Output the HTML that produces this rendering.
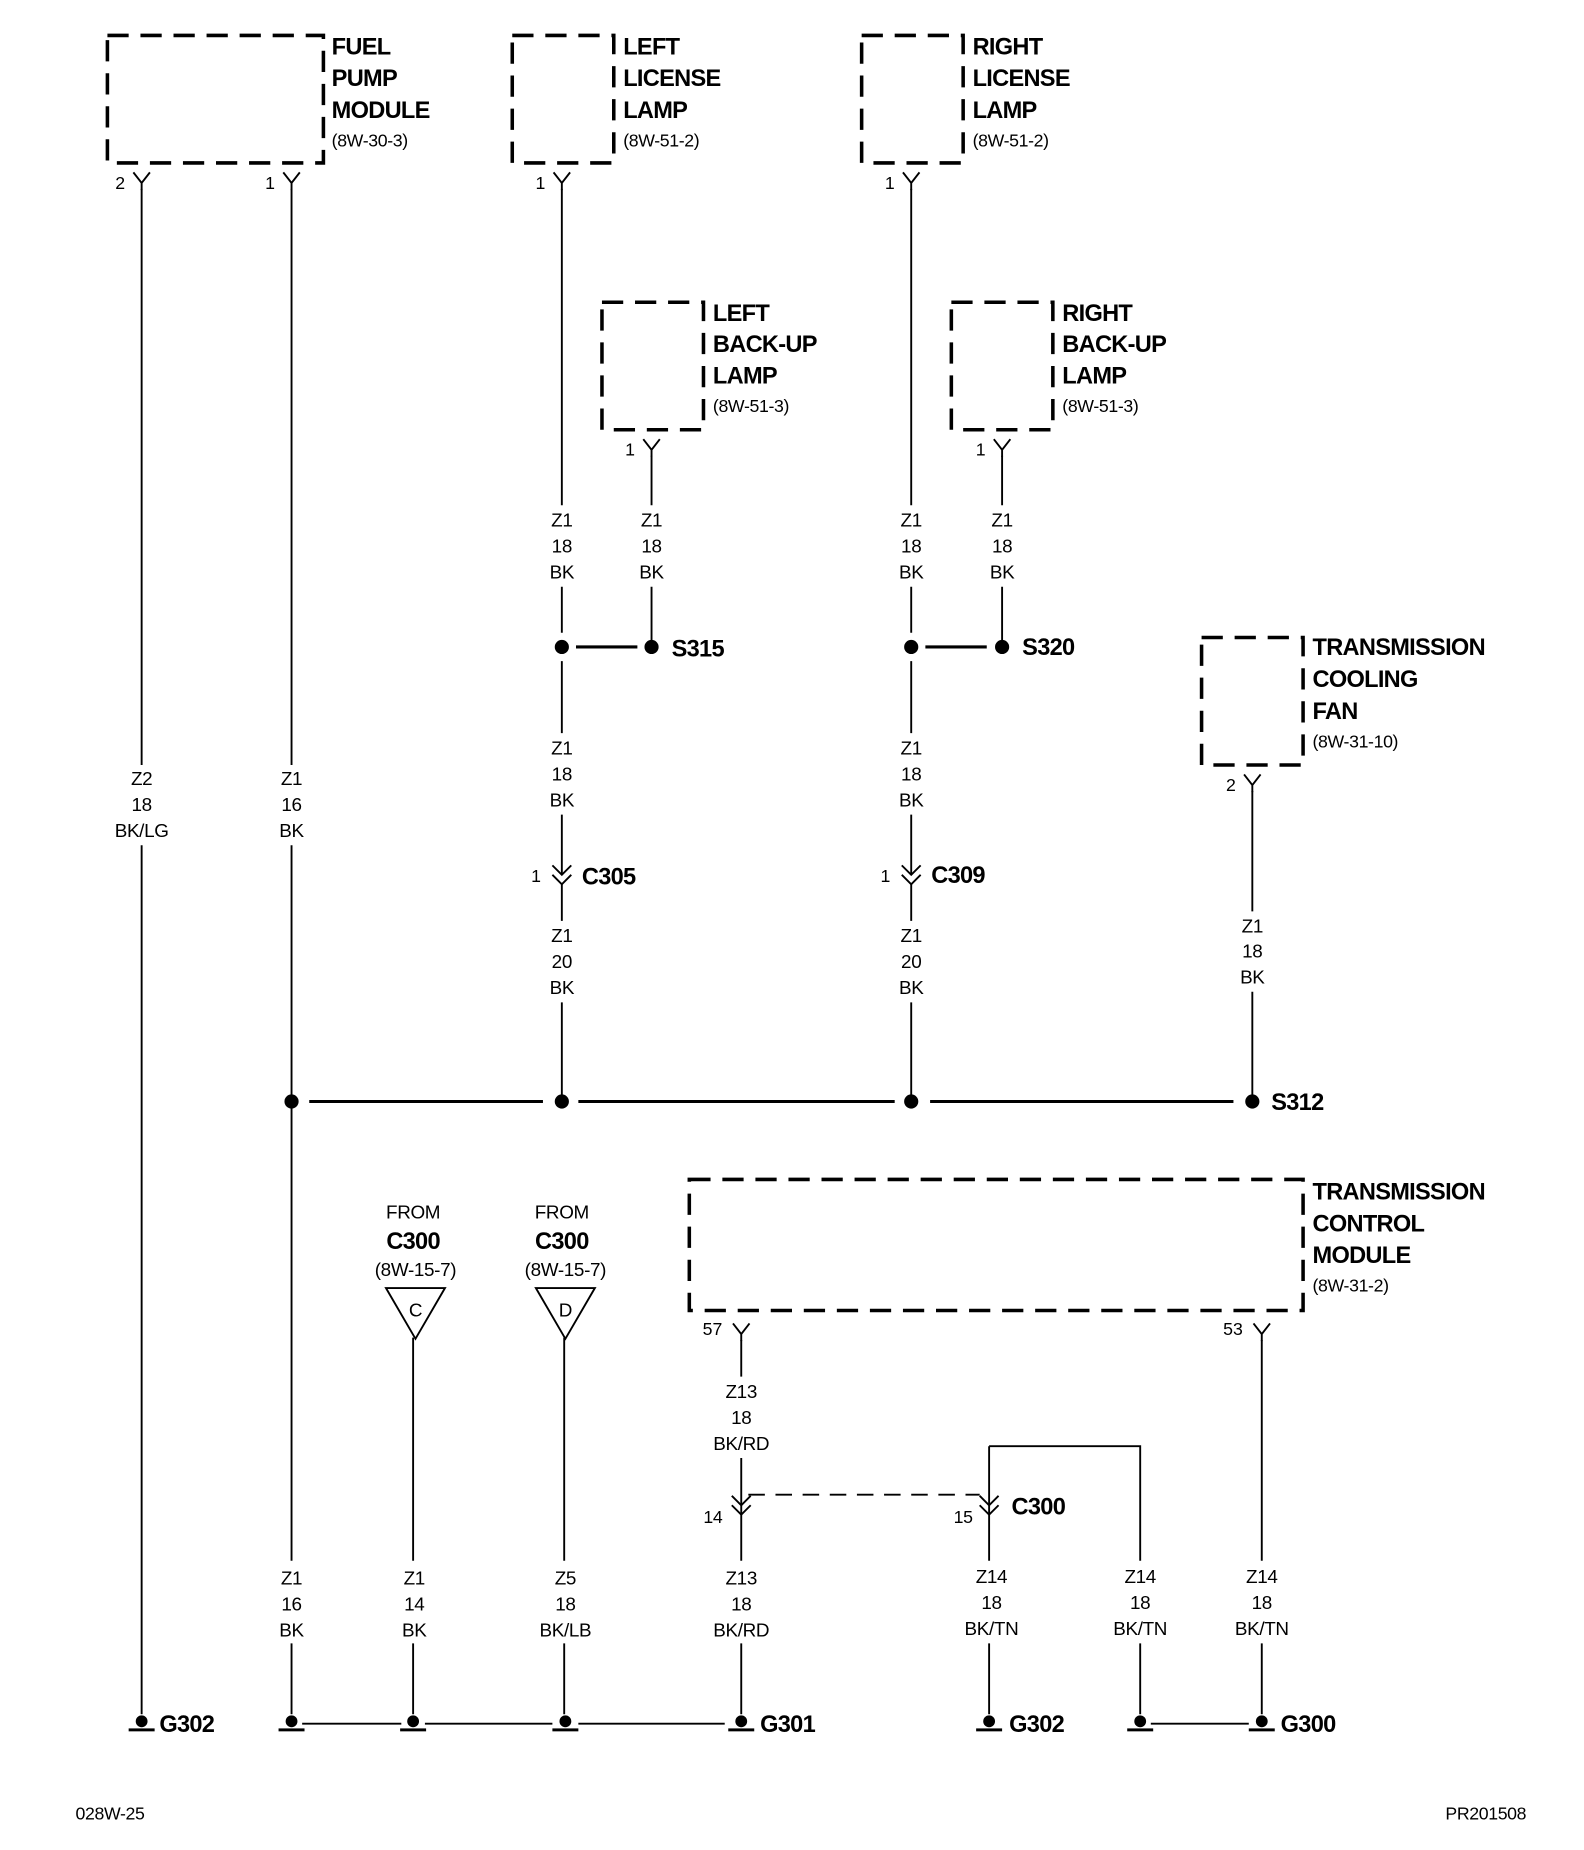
<!DOCTYPE html>
<html><head><meta charset="utf-8"><style>
html,body{margin:0;padding:0;background:#fff;}
svg{display:block;}
text{font-family:"Liberation Sans Narrow","Liberation Sans",sans-serif;fill:#000;}
.b{font-weight:bold;font-size:20px;letter-spacing:-0.6px;}
.s{font-size:15px;letter-spacing:-0.3px;}
.w{font-size:16px;text-anchor:middle;letter-spacing:-0.3px;}
.p{font-size:15px;text-anchor:end;}
.box{fill:none;stroke:#000;stroke-width:3;stroke-dasharray:18 10;}
.wr{stroke:#000;stroke-width:1.6;fill:none;}
.bus{stroke:#000;stroke-width:2.6;fill:none;}
</style></head><body>
<svg width="1584" height="1850" viewBox="0 0 1342 1567" preserveAspectRatio="none" xmlns="http://www.w3.org/2000/svg">
<defs>
<g id="pin"><path d="M-7,-9 L0,0 L7,-9 M0,0 L0,6" class="wr"/></g>
<g id="cc"><path d="M-8,-8 L0,0 L8,-8 M-8,0 L0,8 L8,0" class="wr"/></g>
<g id="gnd"><circle cx="0" cy="-2" r="5"/><rect x="-11" y="4" width="22" height="2.5"/></g>
</defs>

<rect class="box" x="91" y="30" width="183" height="108"/>
<rect class="box" x="434" y="30" width="86" height="108"/>
<rect class="box" x="730" y="30" width="86" height="108"/>
<rect class="box" x="510" y="256" width="86" height="108"/>
<rect class="box" x="806" y="256" width="86" height="108"/>
<rect class="box" x="1018" y="540" width="86" height="108"/>
<rect class="box" x="584" y="999" width="520" height="111"/>

<text class="b" x="281" y="46">FUEL</text><text class="b" x="281" y="73">PUMP</text><text class="b" x="281" y="100">MODULE</text><text class="s" x="281" y="124">(8W-30-3)</text>
<text class="b" x="528" y="46">LEFT</text><text class="b" x="528" y="73">LICENSE</text><text class="b" x="528" y="100">LAMP</text><text class="s" x="528" y="124">(8W-51-2)</text>
<text class="b" x="824" y="46">RIGHT</text><text class="b" x="824" y="73">LICENSE</text><text class="b" x="824" y="100">LAMP</text><text class="s" x="824" y="124">(8W-51-2)</text>
<text class="b" x="604" y="272">LEFT</text><text class="b" x="604" y="298">BACK-UP</text><text class="b" x="604" y="325">LAMP</text><text class="s" x="604" y="349">(8W-51-3)</text>
<text class="b" x="900" y="272">RIGHT</text><text class="b" x="900" y="298">BACK-UP</text><text class="b" x="900" y="325">LAMP</text><text class="s" x="900" y="349">(8W-51-3)</text>
<text class="b" x="1112" y="555">TRANSMISSION</text><text class="b" x="1112" y="582">COOLING</text><text class="b" x="1112" y="609">FAN</text><text class="s" x="1112" y="633">(8W-31-10)</text>
<text class="b" x="1112" y="1016">TRANSMISSION</text><text class="b" x="1112" y="1043">CONTROL</text><text class="b" x="1112" y="1070">MODULE</text><text class="s" x="1112" y="1094">(8W-31-2)</text>

<use href="#pin" x="120" y="155"/><text class="p" x="106" y="160">2</text>
<use href="#pin" x="247" y="155"/><text class="p" x="233" y="160">1</text>
<use href="#pin" x="476" y="155"/><text class="p" x="462" y="160">1</text>
<use href="#pin" x="772" y="155"/><text class="p" x="758" y="160">1</text>
<use href="#pin" x="552" y="381"/><text class="p" x="538" y="386">1</text>
<use href="#pin" x="849" y="381"/><text class="p" x="835" y="386">1</text>
<use href="#pin" x="1061" y="665"/><text class="p" x="1047" y="670">2</text>
<use href="#pin" x="628" y="1130"/><text class="p" x="612" y="1131">57</text>
<use href="#pin" x="1069" y="1130"/><text class="p" x="1053" y="1131">53</text>

<path class="wr" d="M120,160V648M120,716V1452
M247,160V648M247,716V1322M247,1392V1452
M476,160V428M476,497V536M476,560V621M476,690V741M476,749V780M476,849V933
M552,386V428M552,497V548
M772,160V428M772,497V536M772,560V621M772,690V741M772,749V780M772,849V933
M849,386V428M849,497V548
M1061,670V772M1061,840V933
M350,1133V1322M350,1392V1452
M478,1133V1322M478,1392V1452
M628,1135V1166M628,1235V1283M628,1283V1322M628,1392V1452
M838,1225V1322M838,1392V1452M838,1225H966V1322M966,1392V1452
M1069,1135V1322M1069,1392V1452"/>
<path d="M634,1266H830" stroke="#000" stroke-width="1.6" stroke-dasharray="14 9"/>

<path class="bus" d="M262,933H460M490,933H758M788,933H1045M488,548H540M784,548H836"/>
<path class="wr" d="M256,1460H340M360,1460H468M490,1460H614M975,1460H1058" stroke-width="2"/>

<g>
<circle cx="476" cy="548" r="6"/><circle cx="552" cy="548" r="6"/>
<circle cx="772" cy="548" r="6"/><circle cx="849" cy="548" r="6"/>
<circle cx="247" cy="933" r="6"/><circle cx="476" cy="933" r="6"/><circle cx="772" cy="933" r="6"/><circle cx="1061" cy="933" r="6"/>
</g>
<text class="b" x="569" y="556">S315</text>
<text class="b" x="866" y="555">S320</text>
<text class="b" x="1077" y="940">S312</text>

<use href="#cc" x="476" y="741"/><text class="s" x="458" y="747" text-anchor="end">1</text><text class="b" x="493" y="749">C305</text>
<use href="#cc" x="772" y="741"/><text class="s" x="754" y="747" text-anchor="end">1</text><text class="b" x="789" y="748">C309</text>
<use href="#cc" x="628" y="1275"/><text class="s" x="612" y="1290" text-anchor="end">14</text>
<use href="#cc" x="838" y="1275"/><text class="s" x="824" y="1290" text-anchor="end">15</text><text class="b" x="857" y="1283">C300</text>

<text class="w" x="350" y="1032">FROM</text><text class="b" x="350" y="1058" text-anchor="middle">C300</text><text class="w" x="352" y="1081">(8W-15-7)</text>
<path d="M327,1091H377L352,1134Z" class="wr"/><text class="w" x="352" y="1115">C</text>
<text class="w" x="476" y="1032">FROM</text><text class="b" x="476" y="1058" text-anchor="middle">C300</text><text class="w" x="479" y="1081">(8W-15-7)</text>
<path d="M454,1091H504L479,1134Z" class="wr"/><text class="w" x="479" y="1115">D</text>

<g class="w">
<text x="120" y="665">Z2</text><text x="120" y="687">18</text><text x="120" y="709">BK/LG</text>
<text x="247" y="665">Z1</text><text x="247" y="687">16</text><text x="247" y="709">BK</text>
<text x="476" y="446">Z1</text><text x="476" y="468">18</text><text x="476" y="490">BK</text>
<text x="552" y="446">Z1</text><text x="552" y="468">18</text><text x="552" y="490">BK</text>
<text x="772" y="446">Z1</text><text x="772" y="468">18</text><text x="772" y="490">BK</text>
<text x="849" y="446">Z1</text><text x="849" y="468">18</text><text x="849" y="490">BK</text>
<text x="476" y="639">Z1</text><text x="476" y="661">18</text><text x="476" y="683">BK</text>
<text x="772" y="639">Z1</text><text x="772" y="661">18</text><text x="772" y="683">BK</text>
<text x="476" y="798">Z1</text><text x="476" y="820">20</text><text x="476" y="842">BK</text>
<text x="772" y="798">Z1</text><text x="772" y="820">20</text><text x="772" y="842">BK</text>
<text x="1061" y="790">Z1</text><text x="1061" y="811">18</text><text x="1061" y="833">BK</text>
<text x="628" y="1184">Z13</text><text x="628" y="1206">18</text><text x="628" y="1228">BK/RD</text>
<text x="247" y="1342">Z1</text><text x="247" y="1364">16</text><text x="247" y="1386">BK</text>
<text x="351" y="1342">Z1</text><text x="351" y="1364">14</text><text x="351" y="1386">BK</text>
<text x="479" y="1342">Z5</text><text x="479" y="1364">18</text><text x="479" y="1386">BK/LB</text>
<text x="628" y="1342">Z13</text><text x="628" y="1364">18</text><text x="628" y="1386">BK/RD</text>
<text x="840" y="1341">Z14</text><text x="840" y="1363">18</text><text x="840" y="1385">BK/TN</text>
<text x="966" y="1341">Z14</text><text x="966" y="1363">18</text><text x="966" y="1385">BK/TN</text>
<text x="1069" y="1341">Z14</text><text x="1069" y="1363">18</text><text x="1069" y="1385">BK/TN</text>
</g>

<use href="#gnd" x="120" y="1460"/><use href="#gnd" x="247" y="1460"/><use href="#gnd" x="350" y="1460"/><use href="#gnd" x="479" y="1460"/>
<use href="#gnd" x="628" y="1460"/><use href="#gnd" x="838" y="1460"/><use href="#gnd" x="966" y="1460"/><use href="#gnd" x="1069" y="1460"/>
<text class="b" x="135" y="1467">G302</text>
<text class="b" x="644" y="1467">G301</text>
<text class="b" x="855" y="1467">G302</text>
<text class="b" x="1085" y="1467">G300</text>

<text class="s" x="64" y="1541">028W-25</text>
<text class="s" x="1293" y="1541" text-anchor="end">PR201508</text>
</svg>
</body></html>
